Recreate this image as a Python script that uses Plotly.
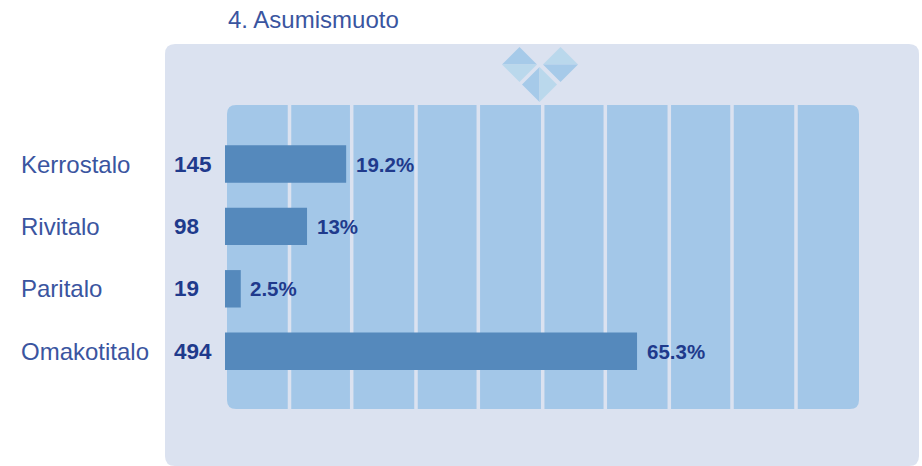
import plotly.graph_objects as go

title = "4. Asumismuoto"
categories = ["Kerrostalo", "Rivitalo", "Paritalo", "Omakotitalo"]
counts = [145, 98, 19, 494]
percents = [19.2, 13, 2.5, 65.3]

W, H = 922, 466
FONT = "Liberation Sans"
PANEL = "#DBE2F0"
COLUMN = "#A3C7E8"
BAR = "#5589BC"
DARK = "#1F3A8C"
LABEL = "#3A55A0"
DIAMOND_DARK = "#A6CAE9"
DIAMOND_LIGHT = "#BAD8EC"

px_per_pct = 6.31
zero_x = 225
first_y, step_y = 164, 62.4
separator_px = [289.5, 351.7, 416, 478.3, 542.7, 605.3, 669.3, 732, 796]


def px(x):
    return x / W


def py(y):
    return 1 - y / H


def rounded(x0, y0, x1, y1, r):
    p = lambda x, y: f"{px(x):.5f},{py(y):.5f}"
    return (
        f"M{p(x0 + r, y0)} L{p(x1 - r, y0)} Q{p(x1, y0)} {p(x1, y0 + r)} "
        f"L{p(x1, y1 - r)} Q{p(x1, y1)} {p(x1 - r, y1)} "
        f"L{p(x0 + r, y1)} Q{p(x0, y1)} {p(x0, y1 - r)} "
        f"L{p(x0, y0 + r)} Q{p(x0, y0)} {p(x0 + r, y0)} Z"
    )


def poly(points, color):
    d = "M" + " L".join(f"{px(x):.5f},{py(y):.5f}" for x, y in points) + " Z"
    return dict(type="path", xref="paper", yref="paper", path=d,
                fillcolor=color, line=dict(width=0), layer="below")


shapes = [
    dict(type="path", xref="paper", yref="paper", path=rounded(165, 44, 919, 466, 10),
         fillcolor=PANEL, line=dict(width=0), layer="below"),
    dict(type="path", xref="paper", yref="paper", path=rounded(227, 105, 859, 409, 9),
         fillcolor=COLUMN, line=dict(width=0), layer="below"),
]
for cx in separator_px:
    shapes.append(dict(type="rect", xref="paper", yref="paper",
                       x0=px(cx - 1.75), x1=px(cx + 1.75), y0=py(409), y1=py(105),
                       fillcolor=PANEL, line=dict(width=0), layer="below"))

for c, (a, b) in {(519.5, 64.5): (DIAMOND_DARK, DIAMOND_LIGHT),
                  (560.5, 64.5): (DIAMOND_LIGHT, DIAMOND_DARK)}.items():
    x, y = c
    shapes.append(poly([(x - 17.5, y), (x, y - 17.5), (x + 17.5, y)], a))
    shapes.append(poly([(x - 17.5, y), (x, y + 17.5), (x + 17.5, y)], b))
x, y = 539.5, 84.5
shapes.append(poly([(x, y - 17.5), (x - 17.5, y), (x, y + 17.5)], DIAMOND_DARK))
shapes.append(poly([(x, y - 17.5), (x + 17.5, y), (x, y + 17.5)], DIAMOND_LIGHT))

fig = go.Figure(go.Bar(
    x=percents, y=list(range(len(categories))), orientation="h",
    width=0.6, marker=dict(color=BAR, line=dict(width=0)),
    hoverinfo="skip",
))

annotations = [dict(text=title, xref="paper", yref="paper", x=px(226), y=py(20),
                    xanchor="left", yanchor="middle", showarrow=False,
                    font=dict(family=FONT, size=24, color=LABEL))]
for i, (name, n, pct) in enumerate(zip(categories, counts, percents)):
    annotations.append(dict(text=name, xref="paper", yref="y", x=px(19), y=i,
                            xanchor="left", yanchor="middle", showarrow=False,
                            font=dict(family=FONT, size=24, color=LABEL)))
    annotations.append(dict(text=f"<b>{n}</b>", xref="paper", yref="y", x=px(172), y=i,
                            xanchor="left", yanchor="middle", showarrow=False,
                            font=dict(family=FONT, size=22.5, color=DARK)))
    annotations.append(dict(text=f"<b>{pct}%</b>", xref="x", yref="y", x=pct, y=i,
                            xshift=7.5, xanchor="left", yanchor="middle", showarrow=False,
                            font=dict(family=FONT, size=20.5, color=DARK)))

fig.update_layout(
    width=W, height=H, autosize=False,
    margin=dict(l=0, r=0, t=0, b=0, pad=0),
    paper_bgcolor="white", plot_bgcolor="rgba(0,0,0,0)",
    showlegend=False, shapes=shapes, annotations=annotations,
    xaxis=dict(range=[-zero_x / px_per_pct, (W - zero_x) / px_per_pct], visible=False, fixedrange=True),
    yaxis=dict(range=[(H - first_y) / step_y, -first_y / step_y], visible=False, fixedrange=True),
)
fig.write_html("out.html", config=dict(displayModeBar=False),
               post_script="document.body.style.margin='0';document.body.style.overflow='hidden';")
